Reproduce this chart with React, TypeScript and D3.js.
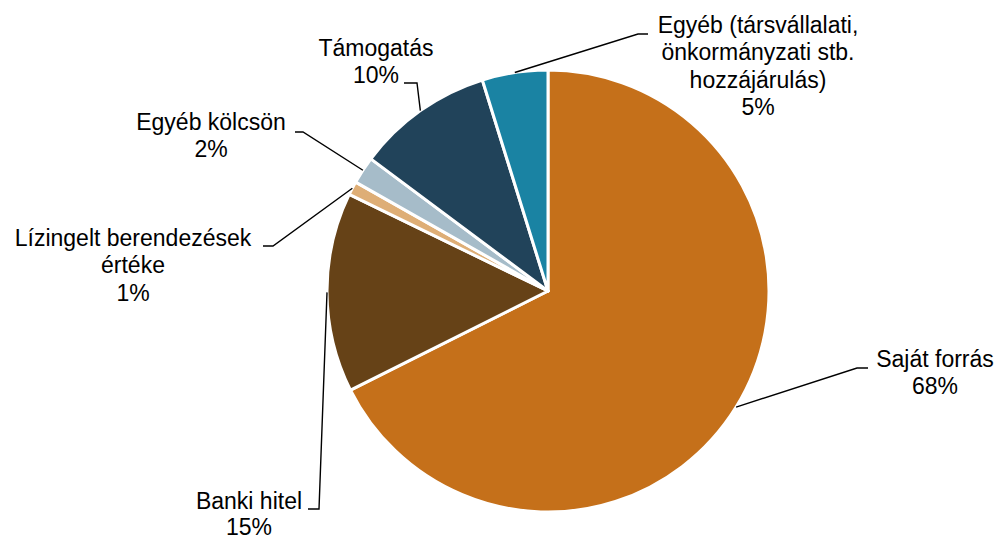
import React from "react";
import * as d3 from "d3";

const categories = [
  "Saját forrás",
  "Banki hitel",
  "Lízingelt berendezések\nértéke",
  "Egyéb kölcsön",
  "Támogatás",
  "Egyéb (társvállalati,\nönkormányzati stb.\nhozzájárulás)",
];
const values = [67.6, 14.6, 1.0, 2.0, 10.0, 4.8];
const colors = ["#C5701A", "#664217", "#DEAE76", "#A6BCC9", "#21435A", "#1A83A3"];

// label layout: elbow point of the leader, end of horizontal tick, text center x, first baseline, line height
const labelLayout = [
  { elbow: [857, 368], tick: [868, 368], cx: 935, by: 366.5, lh: 27.3 },
  { elbow: [319, 509], tick: [308, 509], cx: 249, by: 509, lh: 26 },
  { elbow: [273, 246], tick: [263, 246], cx: 133, by: 246, lh: 27.3 },
  { elbow: [303, 132], tick: [295, 132], cx: 211, by: 130, lh: 27.3 },
  { elbow: [417, 83], tick: [404, 83], cx: 376, by: 56, lh: 27.3 },
  { elbow: [638, 34], tick: [648, 34], cx: 758, by: 33, lh: 27.3 },
];

const W = 998;
const H = 539;
const CX = 548;
const CY = 291;
const R = 221;

export default function App() {
  const data = categories.map((c, i) => ({ name: c, value: values[i], color: colors[i] }));
  const pie = d3
    .pie<any>()
    .sort(null)
    .value((d: any) => d.value)
    .startAngle(0)
    .endAngle(2 * Math.PI);
  const arcs = pie(data);
  const arc = d3.arc<any>().innerRadius(0).outerRadius(R);

  return (
    <svg
      width={W}
      height={H}
      style={{ position: "absolute", left: 0, top: 0, display: "block", background: "#fff" }}
      fontFamily="'Liberation Sans', Arial, sans-serif"
      fontSize={23}
    >
      <g transform={`translate(${CX},${CY})`}>
        {arcs.map((a, i) => (
          <path key={i} d={arc(a) as string} fill={a.data.color} stroke="#fff" strokeWidth={3} strokeLinejoin="round" />
        ))}
      </g>
      {arcs.map((a, i) => {
        const mid = (a.startAngle + a.endAngle) / 2;
        const sx = CX + R * Math.sin(mid);
        const sy = CY - R * Math.cos(mid);
        const L = labelLayout[i];
        const lines = [...a.data.name.split("\n"), `${Math.round(a.data.value)}%`];
        return (
          <g key={i}>
            <polyline
              points={`${sx},${sy} ${L.elbow[0]},${L.elbow[1]} ${L.tick[0]},${L.tick[1]}`}
              fill="none"
              stroke="#000"
              strokeWidth={1.4}
            />
            <text textAnchor="middle" fill="#000">
              {lines.map((t: string, j: number) => (
                <tspan key={j} x={L.cx} y={L.by + j * L.lh}>
                  {t}
                </tspan>
              ))}
            </text>
          </g>
        );
      })}
    </svg>
  );
}
